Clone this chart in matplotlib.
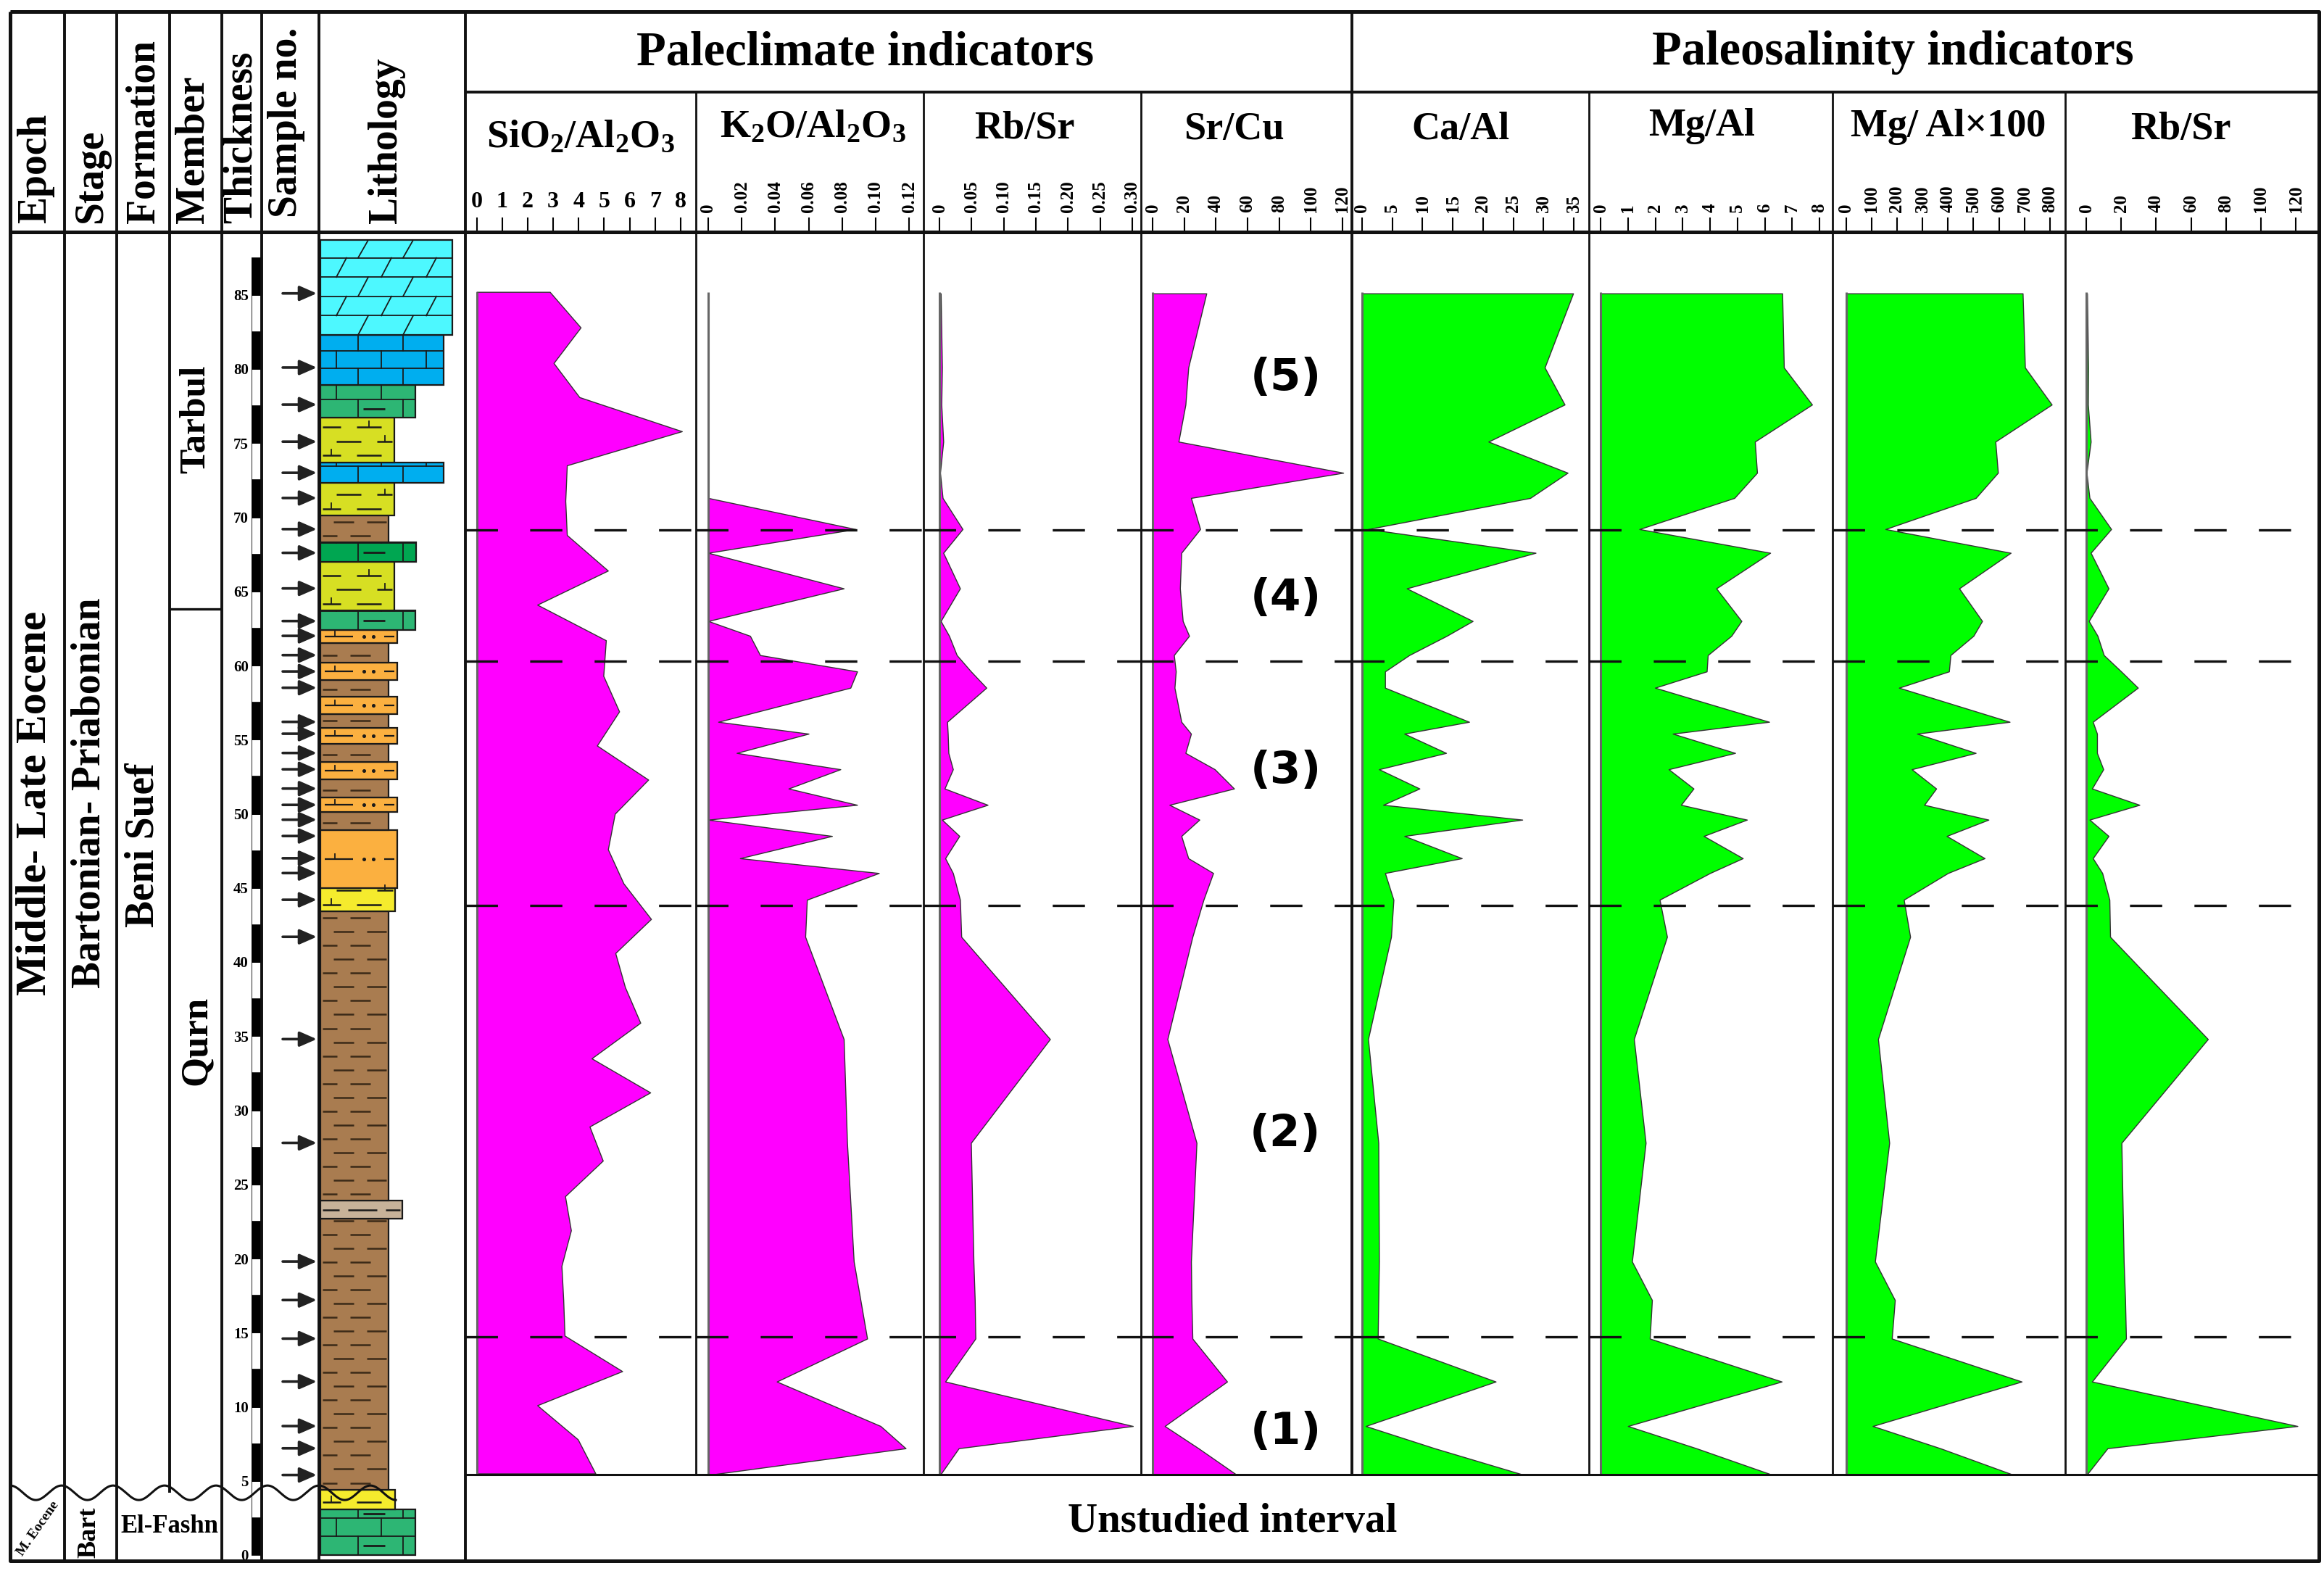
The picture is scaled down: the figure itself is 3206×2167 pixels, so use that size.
import matplotlib.pyplot as plt
import numpy as np

W, H = 3206, 2167
Y0, PXM = 2145.0, 20.45      # pixel row of 0 m, pixels per metre
BODY_TOP, BODY_BOT = 320, 2153

# ---- data ----
sample_depth = [85.1, 80.1, 77.6, 75.1, 73.0, 71.3, 69.2, 67.6, 65.2, 63.0, 62.0, 60.7,
                59.6, 58.5, 56.2, 55.4, 54.1, 53.0, 51.7, 50.6, 49.6, 48.5, 47.0, 46.0,
                44.2, 41.7, 34.8, 27.8, 19.8, 17.2, 14.6, 11.7, 8.7, 7.2, 5.4]
sio2_depth = [85.2, 82.8, 80.4, 78.1, 75.8, 73.5, 71.1, 68.8, 66.4, 64.1, 61.7, 59.3,
              56.9, 54.6, 52.3, 50.0, 47.6, 45.3, 42.9, 40.6, 38.3, 35.9, 33.5, 31.2,
              28.9, 26.6, 24.2, 21.9, 19.5, 17.2, 14.8, 12.4, 10.1, 7.8, 5.5]
sio2 = [2.87, 4.08, 3.02, 4.03, 8.05, 3.54, 3.48, 3.54, 5.15, 2.38, 5.07, 4.97,
        5.59, 4.72, 6.73, 5.42, 5.15, 5.76, 6.84, 5.44, 5.82, 6.42, 4.51, 6.81,
        4.43, 4.95, 3.47, 3.70, 3.33, 3.40, 3.45, 5.71, 2.38, 3.97, 4.66]
k2o = [0.0, 0.088, 0.0, 0.081, 0.0, 0.025, 0.031, 0.089, 0.085, 0.006, 0.060, 0.017,
       0.079, 0.048, 0.089, 0.0, 0.074, 0.019, 0.102, 0.059, 0.058, 0.081, 0.083,
       0.087, 0.091, 0.095, 0.041, 0.103, 0.118, 0.0]          # from 71.3 m down
rbsr = [0.002, 0.004, 0.003, 0.006, 0.001, 0.005, 0.036, 0.006, 0.032, 0.002, 0.015,
        0.027, 0.049, 0.073, 0.012, 0.013, 0.014, 0.021, 0.008, 0.075, 0.004, 0.031,
        0.009, 0.021, 0.032, 0.034, 0.172, 0.049, 0.053, 0.055, 0.056, 0.009, 0.301,
        0.030, 0.001]
srcu = [34.0, 22.6, 20.8, 16.4, 120.5, 24.3, 30.1, 18.2, 17.3, 19.1, 23.1, 13.5, 14.7,
        13.9, 18.2, 24.3, 20.8, 39.3, 51.5, 10.7, 29.6, 18.2, 22.6, 38.3, 32.2, 25.2,
        9.4, 27.8, 24.3, 24.6, 25.2, 47.1, 7.7, 29.0, 53.3]
caal = [34.9, 30.2, 33.5, 20.9, 34.0, 27.8, 1.0, 28.7, 7.4, 18.3, 14.0, 7.8, 3.8, 3.8,
        17.7, 7.0, 13.9, 2.8, 9.5, 3.5, 26.5, 7.0, 16.5, 3.8, 5.2, 4.8, 1.0, 2.7, 2.8,
        2.7, 2.6, 22.1, 0.6, 12.0, 26.8]
mgal = [6.64, 6.70, 7.73, 5.64, 5.72, 4.89, 1.42, 6.20, 4.23, 5.15, 4.78, 3.92, 3.88,
        1.99, 6.16, 2.64, 4.92, 2.49, 3.40, 2.94, 5.35, 3.77, 5.20, 4.00, 2.16, 2.43,
        1.22, 1.65, 1.15, 1.88, 1.80, 6.62, 1.00, 3.50, 6.29]
mgal100 = [693, 702, 807, 586, 596, 509, 155, 646, 444, 534, 500, 410, 404, 208, 642,
           279, 509, 258, 354, 307, 559, 395, 544, 400, 227, 252, 126, 170, 114, 192,
           180, 689, 105, 370, 658]
rbsr_sal = [0.5, 1.1, 1.0, 2.6, 0.2, 1.9, 14.3, 2.6, 12.8, 1.5, 6.5, 10.1, 20.0, 29.6,
            3.8, 6.2, 6.2, 9.8, 3.3, 30.5, 1.9, 12.8, 3.8, 9.2, 13.3, 13.7, 69.7, 20.2,
            21.5, 22.3, 22.8, 3.3, 121.0, 12.2, 0.2]

boundaries = [69.15, 60.3, 43.8, 14.7]
zone_labels = ['(5)', '(4)', '(3)', '(2)', '(1)']
zone_depth = [79.4, 64.5, 52.9, 28.4, 8.3]
member_boundary = 63.8
unconformity = 4.2

beds = [(0.0, 3.1, 'green'), (3.1, 4.4, 'yellow'), (4.4, 22.7, 'shale'),
        (22.7, 23.9, 'tan'), (23.9, 43.4, 'shale'), (43.4, 45.0, 'yellow'),
        (45.0, 48.9, 'orange'), (48.9, 50.1, 'shale'), (50.1, 51.1, 'orange'),
        (51.1, 52.3, 'shale'), (52.3, 53.5, 'orange'), (53.5, 54.7, 'shale'),
        (54.7, 55.8, 'orange'), (55.8, 56.7, 'shale'), (56.7, 57.9, 'orange'),
        (57.9, 59.0, 'shale'), (59.0, 60.2, 'orange'), (60.2, 61.5, 'shale'),
        (61.5, 62.4, 'orange'), (62.4, 63.7, 'green'), (63.7, 67.0, 'marl'),
        (67.0, 68.3, 'dkgreen'), (68.3, 70.1, 'shale'), (70.1, 72.3, 'marl'),
        (72.3, 73.7, 'blue'), (73.7, 76.7, 'marl'), (76.7, 78.9, 'green'),
        (78.9, 82.3, 'blue'), (82.3, 88.7, 'cyan')]

lith_color = {'cyan': '#4DF8FF', 'blue': '#00AEEF', 'green': '#2DB674',
              'dkgreen': '#00A651', 'marl': '#D7DF23', 'yellow': '#F5EB2D',
              'shale': '#A97C50', 'orange': '#FBB040', 'tan': '#C7B299'}
lith_right = {'cyan': 624, 'blue': 612, 'green': 573, 'dkgreen': 574, 'marl': 544,
              'yellow': 545, 'shale': 536, 'orange': 548, 'tan': 555}

plt.rcParams['font.family'] = ['Liberation Serif', 'DejaVu Serif']
plt.rcParams['font.weight'] = 'bold'
plt.rcParams['mathtext.fontset'] = 'custom'
plt.rcParams['mathtext.rm'] = 'Liberation Serif:bold'
plt.rcParams['mathtext.it'] = 'Liberation Serif:bold'
plt.rcParams['mathtext.bf'] = 'Liberation Serif:bold'
plt.rcParams['lines.scale_dashes'] = False

fig = plt.figure(figsize=(W / 100, H / 100), dpi=100)


def ypx(d):
    return Y0 - PXM * d


def depth_axes(x0, x1, y0=BODY_TOP, y1=BODY_BOT):
    ax = fig.add_axes([x0 / W, 1 - y1 / H, (x1 - x0) / W, (y1 - y0) / H])
    ax.set_ylim((Y0 - y1) / PXM, (Y0 - y0) / PXM)
    ax.patch.set_alpha(0)
    for s in ax.spines.values():
        s.set_visible(False)
    ax.tick_params(axis='y', left=False, labelleft=False)
    ax.tick_params(axis='x', bottom=False, labelbottom=False)
    return ax


def chart(x0, x1, p0, p1, vmax, step, depth, vals, color, fmt, rot=90, lsize=18):
    ax = depth_axes(x0, x1)
    k = (p1 - p0) / vmax
    ax.set_xlim((x0 - p0) / k, (x1 - p0) / k)
    ax.fill_betweenx(depth, 0, vals, facecolor=color, edgecolor='#333333', lw=1.0)
    ax.vlines(0, 5.4, 85.2, color='#666666', lw=2.2)
    for d in boundaries:
        ax.axhline(d, color='#111111', lw=2.4, dashes=(32, 32))
    ticks = np.arange(0, vmax + step / 2, step)
    ax.set_xticks(ticks)
    ax.set_xticklabels([fmt(t) for t in ticks])
    ax.tick_params(axis='x', bottom=False, labelbottom=False, top=True, labeltop=True,
                   direction='out', length=14.4, width=1.5, pad=5,
                   labelrotation=rot, labelsize=lsize)
    return ax


def f_int(t):
    return '%d' % round(t)


def f_dec(t):
    return '0' if t == 0 else '%.2f' % t


magenta, green = '#FF00FF', '#00FF00'
k2o_depth = sample_depth[5:]
chart(642, 960, 657.5, 939, 8, 1, sio2_depth, sio2, magenta, f_int, rot=0, lsize=23)
chart(960, 1274, 977, 1254, 0.12, 0.02, k2o_depth, k2o, magenta, f_dec)
chart(1274, 1574, 1296, 1562, 0.30, 0.05, sample_depth, rbsr, magenta, f_dec)
ax_sc = chart(1574, 1865, 1590, 1852, 120, 20, sample_depth, srcu, magenta, f_int)
chart(1865, 2192, 1879, 2171, 35, 5, sample_depth, caal, green, f_int)
chart(2192, 2528, 2208, 2510, 8, 1, sample_depth, mgal, green, f_int)
chart(2528, 2849, 2546.5, 2828, 800, 100, sample_depth, mgal100, green, f_int)
chart(2849, 3199, 2878, 3167, 120, 20, sample_depth, rbsr_sal, green, f_int)

for lab, d in zip(zone_labels, zone_depth):
    ax_sc.text(84, d, lab, family='DejaVu Sans', fontweight='heavy', fontsize=44,
               ha='center', va='center')

# ---- lithology column ----
lx = depth_axes(440, 642)
lx.set_xlim(440, 642)
ink = '#1a1a1a'


def hline(x0, x1, y, c=ink, lw=1.3):
    lx.plot([x0, x1], [y, y], color=c, lw=lw, solid_capstyle='butt')


def bricks(x0, x1, b, t, row, slant=0, marks=False):
    ys = list(np.arange(b, t, row)) + [t]
    for y in ys[1:-1]:
        hline(x0, x1, y)
    for i in range(len(ys) - 1):
        ya, yb = ys[i], ys[i + 1]
        off = 22 if i % 2 else 52
        for x in np.arange(x0 + off, x1 - 6, 62):
            lx.plot([x, x + slant], [ya, yb], color=ink, lw=1.3)
        if marks and i % 2 == 0:
            xm = x0 + 0.45 * (x1 - x0)
            hline(xm, xm + 30, (ya + yb) / 2, lw=2)


def dash_rows(x0, x1, b, t, row, c, seg=28, gap=18, ticks=False):
    for i, y in enumerate(np.arange(b + row / 2, t, row)):
        off = 0 if i % 2 else (seg + gap) / 2
        for j, x in enumerate(np.arange(x0 - seg + off, x1, seg + gap)):
            xa, xb = max(x, x0 + 3), min(x + seg, x1 - 3)
            if xb - xa > 4:
                hline(xa, xb, y, c=c, lw=1.8)
                if ticks and (i + j) % 3 == 0:
                    xm = (xa + xb) / 2
                    lx.plot([xm, xm], [y, y + row * 0.4], color=c, lw=1.3)


def sand_row(x0, x1, b, t):
    y = (b + t) / 2
    hline(x0 + 6, x0 + 45, y, lw=1.6)
    lx.plot([x0 + 20, x0 + 20], [y, y + 0.35], color=ink, lw=1.3)
    for x in np.arange(x0 + 60, x1 - 20, 13):
        lx.plot(x, y, 'o', color=ink, ms=2.6)
    hline(x1 - 18, x1 - 4, y, lw=1.6)


for b, t, kind in beds:
    x0, x1 = 442, lith_right[kind]
    lx.fill([x0, x1, x1, x0], [b, b, t, t], facecolor=lith_color[kind],
            edgecolor=ink, lw=1.6)
    if kind == 'cyan':
        bricks(x0, x1, b, t, 1.3, slant=14)
    elif kind == 'blue':
        bricks(x0, x1, b, t, 1.15)
    elif kind in ('green', 'dkgreen'):
        bricks(x0, x1, b, t, 1.25, marks=True)
    elif kind == 'shale':
        dash_rows(x0, x1, b, t, 0.93, '#3b2a18')
    elif kind in ('marl', 'yellow'):
        dash_rows(x0, x1, b, t, 0.95, ink, seg=34, gap=22, ticks=True)
    elif kind == 'orange':
        sand_row(x0, x1, b, t)
    elif kind == 'tan':
        dash_rows(x0, x1, b, t, 1.2, ink, seg=40, gap=12)

# ---- thickness scale ----
tx = depth_axes(347, 361)
tx.set_xlim(0, 1)
for i, d in enumerate(np.arange(0, 87.5, 2.5)):
    tx.fill([0, 1, 1, 0], [d, d, d + 2.5, d + 2.5],
            facecolor='black' if i % 2 == 0 else 'white', edgecolor='black', lw=1.2)
tx.set_yticks(np.arange(0, 86, 5))
tx.tick_params(axis='y', left=True, labelleft=True, length=0, pad=3, labelsize=15)

# ---- sample arrows ----
sx = depth_axes(361, 440)
sx.set_xlim(361, 440)
for d in sample_depth:
    sx.annotate('', xy=(437, d), xytext=(390, d),
                arrowprops=dict(arrowstyle='-|>,head_length=0.8,head_width=0.35',
                                color='#222222', lw=2.6, mutation_scale=18,
                                shrinkA=0, shrinkB=0))

# ---- frame, headers and text ----
ov = fig.add_axes([0, 0, 1, 1], zorder=10)
ov.set_xlim(0, W)
ov.set_ylim(H, 0)
ov.axis('off')
ov.patch.set_alpha(0)


def seg(xs, ys, lw=2.2):
    ov.plot(xs, ys, color='#111111', lw=lw, solid_capstyle='butt')


seg([14, 3199, 3199, 14, 14], [16, 16, 2153, 2153, 16], lw=3.6)
seg([14, 3199], [320, 320], lw=3.6)
seg([642, 3199], [127, 127], lw=2.8)
seg([642, 3199], [2034, 2034], lw=2.2)
for x in [89, 161, 306, 361, 440, 642]:
    seg([x, x], [16, 2153], lw=2.8)
seg([234, 234], [16, ypx(unconformity)], lw=2.8)
seg([1865, 1865], [16, 2034], lw=2.8)
for x in [960, 1274, 1574, 2192, 2528, 2849]:
    seg([x, x], [127, 2034], lw=2.0)
seg([234, 306], [ypx(member_boundary)] * 2, lw=2.4)

wx = np.linspace(14, 546, 500)
ov.plot(wx, ypx(unconformity) - 10 * np.cos(2 * np.pi * (wx - 14) / 71),
        color='#111111', lw=2.2)

for s, x, y in [('Epoch', 49, 308), ('Stage', 126, 308), ('Formation', 198, 308),
                ('Member', 267, 308), ('Thickness', 333, 308), ('Sample no.', 395, 300),
                ('Lithology', 533, 308)]:
    ov.text(x, y, s, rotation=90, fontsize=40, ha='center', va='bottom')

ov.text(1194, 89, 'Paleclimate indicators', fontsize=48, ha='center', va='baseline')
ov.text(2611, 89, 'Paleosalinity indicators', fontsize=48, ha='center', va='baseline')

for s, x, y in [(r'SiO$_2$/Al$_2$O$_3$', 801, 203), (r'K$_2$O/Al$_2$O$_3$', 1121, 189),
                ('Rb/Sr', 1413, 191), ('Sr/Cu', 1702, 192), ('Ca/Al', 2015, 192),
                ('Mg/Al', 2348, 187), ('Mg/ Al×100', 2688, 188), ('Rb/Sr', 3008, 192)]:
    ov.text(x, y, s, fontsize=39, ha='center', va='baseline')

for s, x, y, fs in [('Middle- Late Eocene', 49, 1108, 43),
                    ('Bartonian- Priabonian', 124, 1094, 40),
                    ('Beni Suef', 197, 1166, 40), ('Qurn', 271, 1435, 38),
                    ('Tarbul', 270, 578, 37), ('Bart', 123, 2114, 26)]:
    ov.text(x, y, s, rotation=90, fontsize=fs, ha='center', va='center')
ov.text(52, 2108, 'M. Eocene', rotation=55, fontsize=14, ha='center', va='center')
ov.text(234, 2106, 'El-Fashn', fontsize=25, ha='center', va='center')
ov.text(1700, 2113, 'Unstudied interval', fontsize=41, ha='center', va='baseline')

fig.savefig('out.png', dpi=100)
